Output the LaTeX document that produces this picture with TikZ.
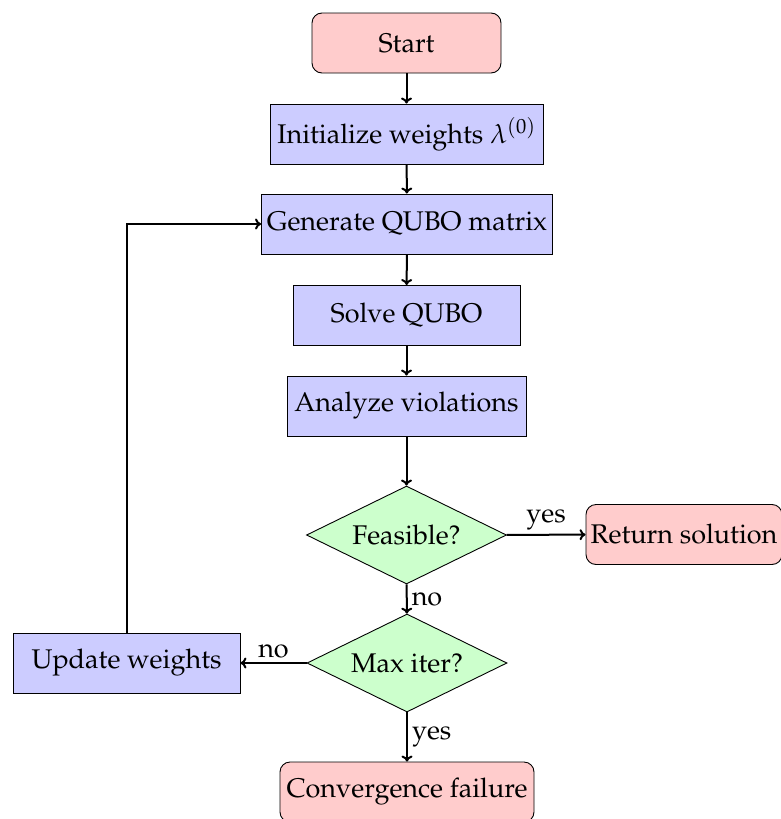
\documentclass[tikz,border=0pt]{standalone}
\usepackage[T1]{fontenc}
\usepackage{mathpazo}
\usetikzlibrary{shapes.geometric,arrows.meta}
\begin{document}
\begin{tikzpicture}[x=1pt,y=-1pt,
  every node/.style={font=\fontsize{27}{32}\selectfont},
  term/.style={draw, line width=0.9pt, rounded corners=10pt, fill=red!20, minimum height=60pt, inner sep=0pt},
  proc/.style={draw, line width=0.9pt, fill=blue!20, minimum height=60pt, inner sep=0pt},
  dec/.style={draw, line width=0.9pt, diamond, shape aspect=2.04, fill=green!20, minimum width=200pt, minimum height=98pt, inner sep=0pt},
  conn/.style={-{To[length=6pt,width=11pt]}, line width=2pt},
  lab/.style={inner sep=4pt}]
\useasboundingbox (0,0) rectangle (780,819);
\node[term, minimum width=189pt] (start) at (406.5,43) {Start};
\node[proc, minimum width=273pt] (init) at (406.5,134) {Initialize weights $\lambda^{(0)}$};
\node[proc, minimum width=291pt] (gen) at (407,224) {Generate QUBO matrix};
\node[proc, minimum width=227pt] (solve) at (406.5,315.5) {Solve QUBO};
\node[proc, minimum width=239pt] (anal) at (406.5,406) {Analyze violations};
\node[dec] (feas) at (406.5,535) {Feasible?};
\node[term, minimum width=196pt] (ret) at (684,534.5) {Return solution};
\node[dec] (maxit) at (407,663) {Max iter?};
\node[proc, minimum width=227pt] (upd) at (126.5,663) {Update weights};
\node[term, minimum width=254pt] (conv) at (407,792) {Convergence failure};
\draw[conn] (start) -- (init);
\draw[conn] (init) -- (gen);
\draw[conn] (gen) -- (solve);
\draw[conn] (solve) -- (anal);
\draw[conn] (anal) -- (feas);
\draw[conn] (feas) -- node[lab, above] {yes} (ret);
\draw[conn] (feas) -- node[lab, right] {no} (maxit);
\draw[conn] (maxit) -- node[lab, above] {no} (upd);
\draw[conn] (maxit) -- node[lab, right] {yes} (conv);
\draw[conn] (upd.north) |- (gen.west);
\end{tikzpicture}
\end{document}
